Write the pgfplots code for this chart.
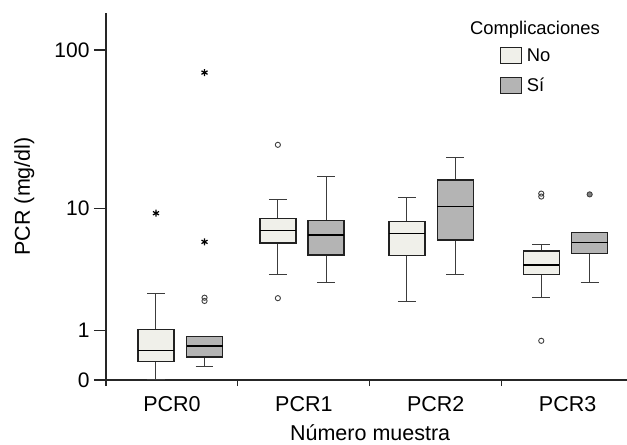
\documentclass[border=0pt]{standalone}
\usepackage{fontspec}
\setmainfont{Liberation Sans}
\usepackage{pgfplots}
\pgfplotsset{compat=1.18}
\usepgfplotslibrary{statistics}
\definecolor{nofill}{HTML}{F0F0EA}
\definecolor{sifill}{HTML}{B4B4B4}
\definecolor{boxline}{HTML}{222222}
\definecolor{whisk}{HTML}{3C3C3C}
\definecolor{outl}{HTML}{404040}

\pgfplotsset{
  pcrbox/.style={
    boxplot/draw direction=y,
    boxplot/box extend=0.273,
    boxplot/whisker extend=0.136,
    boxplot/every box/.style={draw=boxline, line width=1.4bp, fill=#1},
    boxplot/every whisker/.style={draw=whisk, line width=1bp},
    boxplot/every median/.style={draw=black, line width=1.4bp},
  },
}

\begin{document}
\begin{tikzpicture}
\begin{axis}[
  at={(106bp,65bp)}, anchor=south west,
  scale only axis,
  width=521bp, height=367.3bp,
  xmin=0, xmax=3.95,
  ymin=0, ymax=169,
  y coord trafo/.code={\pgfmathparse{log10(#1+1)}},
  y coord inv trafo/.code={\pgfmathparse{10^(#1)-1}},
  axis x line*=bottom, axis y line*=left,
  axis line style={line width=1.2bp, black!85},
  tick style={line width=1.2bp, black!85},
  tick align=outside,
  major tick length=12bp,
  minor tick length=6bp,
  xtick={0.5,1.5,2.5,3.5},
  xticklabels={PCR0,PCR1,PCR2,PCR3},
  major x tick style={draw=none},
  minor xtick={0,1,2,3},
  ytick={0,1,10,100},
  yticklabels={0,1,10,100},
  /pgf/number format/assume math mode=true,
  xticklabel style={font=\fontsize{21.5bp}{25bp}\selectfont, yshift=-1bp},
  yticklabel style={font=\fontsize{21bp}{25bp}\selectfont, xshift=-1bp},
  label style={font=\fontsize{21.5bp}{25bp}\selectfont},
  xlabel={Número muestra},
  ylabel={PCR (mg/dl)},
  xlabel style={at={(axis description cs:0.507,-0.144)}, anchor=center},
  ylabel style={at={(axis description cs:-0.157,0.5)}, anchor=center},
  legend style={at={(axis description cs:0.756,0.907)}, anchor=north west,
    draw=none, fill=none, inner sep=0pt, row sep=13bp,
    font=\fontsize{18.4bp}{20bp}\selectfont,
    nodes={inner xsep=4.5bp, inner ysep=0bp}},
  legend cell align=left,
  legend image code/.code={\draw[#1, line width=1.2bp] (0bp,-8bp) rectangle (21bp,8bp);},
  clip=false,
]
\addlegendimage{draw=boxline, fill=nofill}
\addlegendentry{No}
\addlegendimage{draw=boxline, fill=sifill}
\addlegendentry{Sí}

% PCR0
\addplot[pcrbox=nofill, boxplot prepared={draw position=0.379,
  lower whisker=0.01, lower quartile=0.30, median=0.51,
  upper quartile=1.03, upper whisker=2.35}] coordinates {};
\addplot[pcrbox=sifill, boxplot prepared={draw position=0.747,
  lower whisker=0.20, lower quartile=0.38, median=0.61,
  upper quartile=0.83, upper whisker=0.83}] coordinates {};
% PCR1
\addplot[pcrbox=nofill, boxplot prepared={draw position=1.303,
  lower whisker=3.36, lower quartile=5.8, median=7.07,
  upper quartile=8.6, upper whisker=11.5}] coordinates {};
\addplot[pcrbox=sifill, boxplot prepared={draw position=1.669,
  lower whisker=2.92, lower quartile=4.75, median=6.6,
  upper quartile=8.34, upper whisker=16.3}] coordinates {};
% PCR2
\addplot[pcrbox=nofill, boxplot prepared={draw position=2.281,
  lower whisker=1.98, lower quartile=4.72, median=6.74,
  upper quartile=8.16, upper whisker=11.8}] coordinates {};
\addplot[pcrbox=sifill, boxplot prepared={draw position=2.648,
  lower whisker=3.36, lower quartile=6.09, median=10.3,
  upper quartile=15.4, upper whisker=21.3}] coordinates {};
% PCR3
\addplot[pcrbox=nofill, boxplot prepared={draw position=3.300,
  lower whisker=2.15, lower quartile=3.39, median=4.0,
  upper quartile=5.08, upper whisker=5.67}] coordinates {};
\addplot[pcrbox=sifill, boxplot prepared={draw position=3.667,
  lower whisker=2.9, lower quartile=4.85, median=5.83,
  upper quartile=6.89, upper whisker=6.89}] coordinates {};

% extreme values (stars)
\addplot[only marks, mark=asterisk, mark size=3.5bp, line width=1.2bp, black]
  coordinates {(0.379,9.3) (0.747,72.6) (0.747,5.9)};
% outliers (circles)
\addplot[only marks, mark=o, mark size=2.6bp, line width=0.9bp, outl]
  coordinates {(0.747,2.16) (0.747,2.02) (1.303,25.8) (1.303,2.14)
               (3.300,12.55) (3.300,12.0) (3.300,0.73)};
\addplot[only marks, mark=*, mark size=2.6bp, line width=0.9bp, draw=outl, fill=gray]
  coordinates {(3.667,12.4)};

\node[font=\fontsize{18.4bp}{20bp}\selectfont] at (axis description cs:0.8234,0.953) {Complicaciones};
\end{axis}
\pgfresetboundingbox
\path (0,0) rectangle (627bp,445bp);
\end{tikzpicture}
\end{document}
